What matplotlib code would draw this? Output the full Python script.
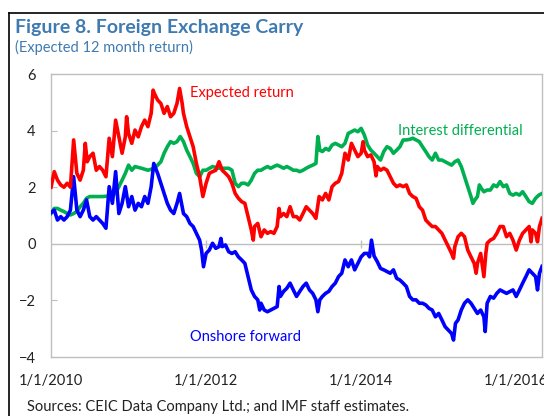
import matplotlib.pyplot as plt
import numpy as np
from matplotlib.lines import Line2D

plt.rcParams['font.family'] = ['Lato', 'DejaVu Sans']

# (months since 1/1/2010, percent)
expected_return = [
    (0, 2.0), (0.5, 2.55), (1, 2.25), (1.5, 2.08), (2, 2.0), (2.5, 2.14), (3, 2.0), (3.5, 3.67), (4, 2.49),
    (4.5, 2.25), (5, 2.6), (5.3, 3.55), (5.6, 2.9), (6, 3.08), (6.5, 3.2), (7, 2.6), (7.5, 2.73), (8, 2.6),
    (8.5, 2.37), (9, 3.73), (9.5, 3.08), (10, 4.37), (10.5, 3.78), (11, 3.2), (11.5, 3.78), (11.7, 4.49),
    (12, 3.9), (12.5, 3.55), (13, 4.02), (13.5, 3.78), (14, 4.14), (14.5, 4.37), (15, 4.14), (15.5, 4.61),
    (15.8, 5.43), (16, 5.31), (16.5, 5.08), (17, 4.96), (17.5, 4.61), (18, 4.85), (18.5, 4.49), (19, 4.61),
    (19.5, 4.96), (19.9, 5.49), (20.3, 4.96), (20.5, 4.61), (21, 4.14), (21.5, 3.78), (22, 3.43), (22.5, 2.84),
    (23, 2.37), (23.5, 1.67), (24, 2.14), (24.5, 2.49), (25, 2.55), (25.5, 2.6), (26, 2.9), (26.5, 2.6),
    (27, 2.49), (27.5, 2.37), (28, 2.14), (28.5, 1.78), (29, 1.61), (29.5, 1.49), (30, 1.43), (30.5, 0.96),
    (31, 0.49), (31.3, 0.13), (31.5, 0.61), (32, 0.72), (32.5, 0.25), (33, 0.49), (33.5, 0.37), (34, 0.43),
    (34.5, 0.37), (35, 0.61), (35.3, 1.25), (35.5, 0.96), (36, 1.07), (36.5, 0.96), (37, 1.31), (37.5, 0.96),
    (38, 0.96), (38.5, 0.84), (39, 1.07), (39.5, 1.31), (40, 1.19), (40.5, 1.07), (41, 0.9), (41.5, 1.67),
    (42, 1.55), (42.5, 1.78), (43, 1.55), (43.5, 2.02), (44, 2.14), (44.5, 2.2), (45, 2.49), (45.5, 3.2),
    (46, 2.96), (46.5, 3.55), (47, 3.31), (47.5, 3.08), (48, 3.2), (48.3, 3.61), (48.5, 3.31), (49, 3.08),
    (49.5, 3.14), (50, 2.9), (50.3, 2.4), (50.5, 2.73), (51, 2.6), (51.5, 2.67), (52, 2.6), (52.5, 2.37),
    (53, 2.14), (53.5, 2.02), (54, 2.08), (54.5, 2.02), (55, 2.08), (55.5, 1.78), (56, 1.67), (56.5, 1.61),
    (57, 1.31), (57.5, 1.19), (58, 0.84), (58.5, 0.72), (59, 0.61), (59.5, 0.61), (60, 0.49), (60.5, 0.37),
    (61, 0.13), (61.5, -0.1), (62, -0.34), (62.3, -0.51), (62.5, -0.1), (63, 0.25), (63.5, 0.37), (64, 0.25),
    (64.5, -0.22), (65, -0.46), (65.5, -0.69), (65.8, -1.04), (66, -0.69), (66.5, -0.34), (67, -1.16),
    (67.3, -0.34), (67.5, 0.02), (68, 0.13), (68.5, 0.19), (69, 0.37), (69.5, 0.61), (70, 0.61), (70.5, 0.25),
    (71, 0.37), (71.5, 0.13), (72, -0.22), (72.5, 0.13), (73, 0.37), (73.5, 0.49), (74, 0.61), (74.3, 0.07),
    (74.5, 0.49), (75, 0.37), (75.3, 0.07), (75.6, 0.61), (76, 0.9)]

interest_diff = [
    (0, 1.07), (0.5, 1.25), (1, 1.25), (1.5, 1.19), (2, 1.14), (2.5, 1.07), (3, 1.02), (3.5, 1.07), (4, 1.14),
    (4.5, 1.31), (5, 1.43), (5.5, 1.61), (6, 1.67), (7, 1.67), (8, 1.67), (9, 1.69), (10, 1.78), (10.5, 2.02),
    (11, 2.25), (11.5, 2.49), (12, 2.78), (12.5, 2.6), (13, 2.73), (14, 2.67), (15, 2.6), (16, 2.67),
    (16.5, 2.78), (17, 2.9), (17.5, 3.2), (18, 3.43), (18.5, 3.61), (19, 3.55), (19.5, 3.61), (20, 3.79),
    (20.5, 3.61), (21, 3.31), (21.5, 3.08), (22, 2.84), (22.5, 2.49), (23, 2.37), (23.5, 2.6), (24, 2.6),
    (25, 2.73), (26, 2.67), (27, 2.67), (27.5, 2.67), (28, 2.6), (28.5, 2.14), (29, 2.02), (29.5, 2.14),
    (30, 2.14), (30.5, 2.08), (31, 2.25), (31.5, 2.49), (32, 2.6), (32.5, 2.6), (33, 2.67), (33.5, 2.73),
    (34, 2.67), (34.5, 2.73), (35, 2.78), (35.5, 2.73), (36, 2.67), (36.5, 2.73), (37, 2.67), (37.5, 2.6),
    (38, 2.6), (38.5, 2.55), (39, 2.6), (39.5, 2.67), (40, 2.73), (40.5, 2.78), (41, 2.84), (41.3, 3.79),
    (41.6, 3.31), (42, 3.26), (42.5, 3.37), (43, 3.31), (43.5, 3.49), (44, 3.55), (44.5, 3.49), (45, 3.43),
    (45.5, 3.55), (46, 3.9), (46.5, 3.96), (47, 4.02), (47.5, 3.96), (48, 4.08), (48.5, 3.84), (49, 3.49),
    (49.5, 3.31), (50, 3.2), (50.5, 3.08), (51, 2.96), (51.5, 3.26), (52, 3.43), (52.5, 3.37), (53, 3.2),
    (53.5, 3.31), (54, 3.43), (54.5, 3.67), (55, 3.67), (55.5, 3.69), (56, 3.73), (56.5, 3.67), (57, 3.61),
    (57.5, 3.43), (58, 3.26), (58.5, 3.08), (59, 2.96), (59.5, 3.2), (60, 2.96), (60.5, 2.96), (61, 2.9),
    (61.5, 2.84), (62, 2.78), (62.5, 2.9), (63, 2.96), (63.5, 2.73), (64, 2.37), (64.5, 2.02), (65, 1.67),
    (65.3, 1.43), (65.6, 1.55), (66, 1.67), (66.3, 2.08), (66.6, 1.96), (67, 1.84), (67.5, 1.9), (68, 1.9),
    (68.5, 2.08), (69, 2.02), (69.5, 2.2), (70, 2.02), (70.5, 2.08), (71, 1.78), (71.5, 1.72), (72, 1.78),
    (72.5, 1.72), (73, 1.84), (73.5, 1.67), (74, 1.49), (74.5, 1.43), (75, 1.61), (75.5, 1.72), (76, 1.78)]

onshore_fwd = [
    (0, 1.1), (0.5, 1.19), (1, 0.84), (1.5, 0.96), (2, 0.84), (2.5, 0.96), (3, 1.19), (3.5, 2.37), (4, 1.19),
    (4.5, 0.96), (5, 1.19), (5.5, 1.55), (6, 0.96), (6.5, 0.84), (7, 0.96), (7.5, 0.84), (8, 0.72), (8.5, 0.55),
    (9, 2.02), (9.5, 1.43), (10, 2.55), (10.5, 1.07), (11, 1.43), (11.5, 2.02), (12, 1.31), (12.5, 1.67),
    (13, 1.19), (13.5, 1.43), (14, 1.31), (14.5, 1.67), (15, 1.43), (15.5, 2.02), (15.9, 2.84), (16.5, 2.49),
    (17, 2.14), (17.5, 1.78), (18, 1.43), (18.5, 1.19), (19, 1.07), (19.5, 1.43), (19.9, 1.78), (20.5, 1.07),
    (21, 0.96), (21.5, 0.72), (22, 0.61), (22.5, 0.37), (23, 0.13), (23.3, -0.22), (23.6, -0.81), (24, -0.34),
    (24.5, -0.22), (25, 0.02), (25.5, -0.16), (26, -0.1), (26.3, 0.19), (26.5, -0.1), (27, -0.04), (27.5, -0.28),
    (28, -0.34), (28.5, -0.28), (29, -0.46), (29.5, -0.57), (30, -0.69), (30.5, -1.16), (31, -1.63),
    (31.5, -1.86), (32, -1.98), (32.3, -2.34), (32.5, -2.1), (33, -2.34), (33.5, -2.4), (34, -2.34),
    (34.5, -2.28), (35, -2.22), (35.3, -1.51), (35.5, -1.86), (36, -1.68), (36.5, -1.57), (37, -1.39),
    (37.5, -1.63), (38, -1.86), (38.5, -1.68), (39, -1.51), (39.5, -1.39), (40, -1.63), (40.5, -1.75),
    (41, -1.98), (41.3, -2.4), (41.6, -1.98), (42, -1.86), (42.5, -1.75), (43, -1.68), (43.5, -1.51),
    (44, -1.39), (44.5, -1.16), (45, -1.04), (45.5, -0.57), (46, -0.81), (46.5, -0.57), (47, -0.92),
    (47.5, -0.69), (48, -0.46), (48.5, -0.34), (49, -0.34), (49.3, -0.46), (49.6, 0.13), (50, -0.43),
    (50.5, -0.63), (51, -0.87), (51.5, -0.92), (52, -0.98), (52.5, -1.04), (53, -0.92), (53.5, -1.22),
    (54, -1.28), (54.5, -1.39), (55, -1.51), (55.5, -1.86), (56, -1.98), (56.5, -1.98), (57, -2.1),
    (57.5, -2.1), (58, -2.16), (58.5, -2.28), (59, -2.34), (59.5, -2.58), (60, -2.46), (60.5, -2.69),
    (61, -2.93), (61.5, -3.05), (62, -3.17), (62.3, -3.4), (62.6, -2.81), (63, -2.69), (63.5, -2.34),
    (64, -2.1), (64.5, -1.98), (65, -2.1), (65.5, -2.28), (66, -2.46), (66.5, -2.34), (67, -2.58),
    (67.2, -3.1), (67.5, -2.1), (68, -1.86), (68.5, -1.92), (69, -1.75), (69.5, -1.63), (70, -1.69),
    (70.5, -1.75), (71, -1.69), (71.5, -1.63), (72, -1.86), (72.5, -1.63), (73, -1.39), (73.5, -1.16),
    (74, -0.92), (74.5, -1.04), (75, -1.16), (75.3, -1.63), (75.6, -1.04), (76, -0.8)]

x_ticks = [2010, 2012, 2014, 2016]
x_labels = ['1/1/2010', '1/1/2012', '1/1/2014', '1/1/2016']


def series(pairs):
    m, v = zip(*pairs)
    return 2010 + np.array(m) / 12.0, np.array(v)


fig = plt.figure(figsize=(5.44, 4.16), dpi=100)
ax = fig.add_axes([0.0938, 0.1418, 0.9026, 0.6803])

for pairs, col, z in [(interest_diff, '#00B050', 3), (onshore_fwd, '#0000FF', 4), (expected_return, '#FF0000', 5)]:
    xx, yy = series(pairs)
    ax.plot(xx, yy, color=col, lw=2.6, zorder=z, solid_joinstyle='round')

ax.set_xlim(2010, 2016 + 4/12.0)
ax.set_ylim(-4, 6)
ax.axhline(0, color='#BFBFBF', lw=1, zorder=1)
ax.vlines(x_ticks[1:3], -0.15, 0.15, color='#BFBFBF', lw=1, zorder=1)

for s in ax.spines.values():
    s.set_color('#BFBFBF')
    s.set_linewidth(1)

ax.set_yticks([-4, -2, 0, 2, 4, 6])
ax.tick_params(axis='y', direction='in', length=4, color='#BFBFBF', pad=11,
               labelsize=10.5, labelcolor='#222222')
ax.set_xticks(x_ticks)
ax.set_xticklabels(x_labels)
ax.tick_params(axis='x', length=0, pad=12, labelsize=10.5, labelcolor='#222222')

ax.text(2011.79, 5.33, 'Expected return', color='#FF0000', fontsize=10.5, va='center')
ax.text(2014.48, 3.98, 'Interest differential', color='#00B050', fontsize=10.5, va='center')
ax.text(2011.79, -3.29, 'Onshore forward', color='#0000FF', fontsize=10.5, va='center')

fig.text(0.028, 0.935, 'Figure 8. Foreign Exchange Carry', color='#3F7BB0',
         fontsize=14, fontweight='bold', va='center')
fig.text(0.028, 0.886, '(Expected 12 month return)', color='#3F7BB0', fontsize=10.5, va='center')
fig.text(0.05, 0.022, 'Sources: CEIC Data Company Ltd.; and IMF staff estimates.',
         color='#222222', fontsize=10.5, va='center')

# frame around the figure panel
fig.add_artist(Line2D([0.0165, 0.0165], [0.0, 0.969], color='black', lw=1.2))
fig.add_artist(Line2D([0.0165, 1.0], [0.969, 0.969], color='black', lw=1.2))

fig.savefig('out.png', dpi=100)
